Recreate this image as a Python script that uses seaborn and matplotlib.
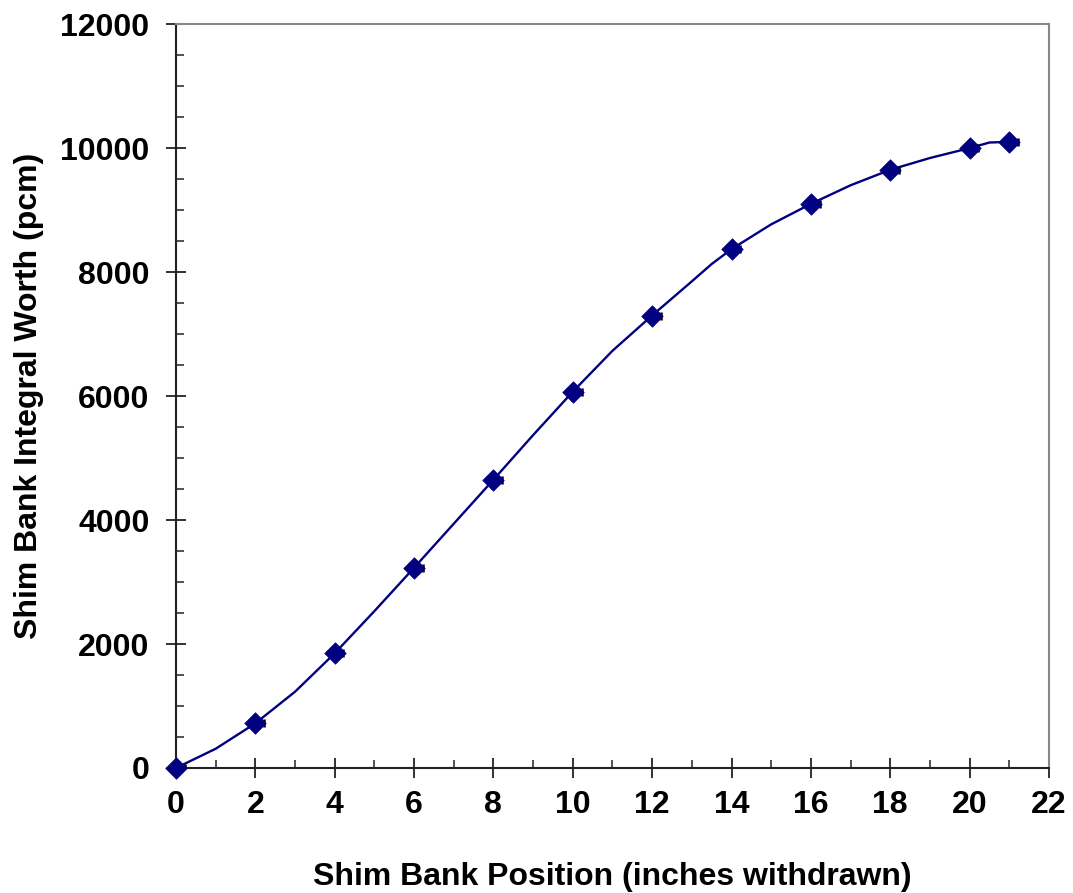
import numpy as np
import pandas as pd
import matplotlib
matplotlib.use("Agg")
import matplotlib.pyplot as plt
import seaborn as sns
from matplotlib.ticker import MultipleLocator

# Measured points (markers)
position = [0, 2, 4, 6, 8, 10, 12, 14, 16, 18, 20, 21]
worth = [0, 720, 1850, 3225, 4645, 6065, 7290, 8370, 9100, 9650, 10000, 10100]

# Fitted curve
curve_pos = [0, 1, 2, 3, 4, 5, 6, 7, 8, 9, 10, 11, 12, 13, 13.5, 14, 15, 16,
             17, 18, 19, 20, 20.5, 21]
curve_worth = [0, 310, 720, 1230, 1850, 2530, 3230, 3940, 4650, 5370, 6070,
               6730, 7300, 7850, 8130, 8370, 8770, 9100, 9400, 9650, 9840,
               10000, 10090, 10100]

pts = pd.DataFrame({"pos": position, "worth": worth})
curve = pd.DataFrame({"pos": curve_pos, "worth": curve_worth})

sns.set_style("ticks")
plt.rcParams["font.family"] = ["Liberation Sans", "DejaVu Sans"]
plt.rcParams["font.weight"] = "bold"
plt.rcParams["text.color"] = "black"
plt.rcParams["axes.labelcolor"] = "black"
plt.rcParams["xtick.color"] = "black"
plt.rcParams["ytick.color"] = "black"

navy = "#000080"
fig, ax = plt.subplots(figsize=(10.73, 8.93), dpi=100)
fig.subplots_adjust(left=0.164, right=0.9776, top=0.973, bottom=0.14)

sns.lineplot(data=curve, x="pos", y="worth", color=navy, linewidth=1.7, ax=ax,
             sort=False)
# small error bars on the measured points
ax.errorbar(pts["pos"], pts["worth"], xerr=[np.zeros(len(pts)), np.full(len(pts), 0.22)],
            fmt="none", ecolor="black", elinewidth=1.8, capsize=3, capthick=1.8)
sns.scatterplot(data=pts, x="pos", y="worth", marker="D", s=120, color=navy,
                edgecolor=navy, linewidth=0.5, ax=ax, zorder=5)
for coll in ax.collections:
    coll.set_clip_on(False)

ax.set_xlim(0, 22)
ax.set_ylim(0, 12000)
ax.xaxis.set_major_locator(MultipleLocator(2))
ax.xaxis.set_minor_locator(MultipleLocator(1))
ax.yaxis.set_major_locator(MultipleLocator(2000))
ax.yaxis.set_minor_locator(MultipleLocator(500))

ax.tick_params(which="major", direction="inout", length=14, width=1.3,
               color="#222222", labelcolor="black", labelsize=23, pad=9)
ax.tick_params(axis="y", which="major", pad=12)
ax.tick_params(which="minor", direction="in", length=6, width=1.1, color="#222222")
for lbl in ax.get_xticklabels() + ax.get_yticklabels():
    lbl.set_fontweight("bold")

for side in ["left", "bottom"]:
    ax.spines[side].set_color("#222222")
    ax.spines[side].set_linewidth(1.5)
for side in ["top", "right"]:
    ax.spines[side].set_visible(True)
    ax.spines[side].set_color("#888888")
    ax.spines[side].set_linewidth(1.5)

ax.set_xlabel("Shim Bank Position (inches withdrawn)", fontsize=23,
              fontweight="bold", labelpad=30, color="black")
ax.set_ylabel("Shim Bank Integral Worth (pcm)", fontsize=23,
              fontweight="bold", labelpad=12, color="black")

fig.savefig("out.png", dpi=100)
